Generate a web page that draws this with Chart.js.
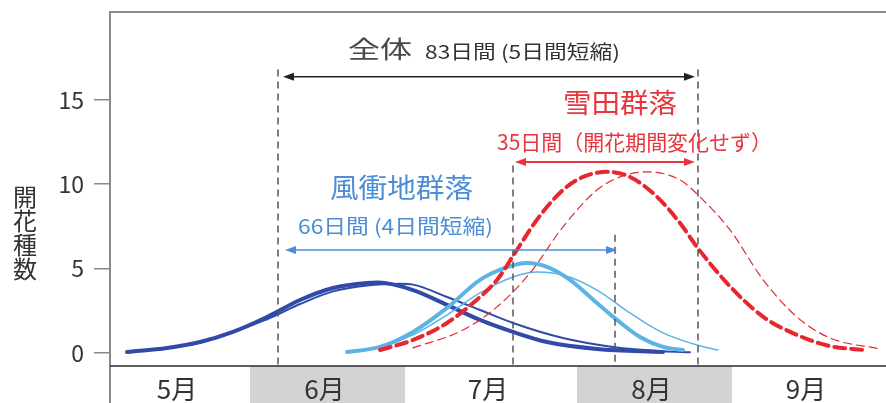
<!DOCTYPE html>
<html lang="ja">
<head>
<meta charset="utf-8">
<script src="https://cdn.jsdelivr.net/npm/chart.js@4.4.1/dist/chart.umd.min.js"></script>
<style>
html,body{margin:0;padding:0;background:#fff;}
#wrap{width:886px;height:403px;}
</style>
</head>
<body>
<div id="wrap"><canvas id="c" width="886" height="403"></canvas></div>
<script>
// x: days counted along the season axis, y: number of flowering species
const yTicks = [0, 5, 10, 15];
const monthLabels = ['5月', '6月', '7月', '8月', '9月'];
const monthEdges = [0, 28, 59, 93.4, 124.4, 155.2];
const monthShaded = [false, true, false, true, false];

// 風衝地群落 (dark blue) – present (thick) and earlier (thin)
const windNow = [[3.4,0.06],[11.4,0.3],[18,0.65],[24.6,1.25],[31.4,2.13],[38,3.14],[44.6,3.85],[51.4,4.15],[53.6,4.17],[60.6,3.73],[67.4,2.85],[74,1.96],[80.6,1.25],[87.4,0.65],[97.4,0.24],[110.6,0.06]];
const windPast = [[3.4,0.06],[18,0.6],[31.4,2.0],[38,2.9],[44.6,3.65],[51.4,4.0],[58,4.1],[60.6,4.05],[67.4,3.32],[74,2.55],[80.6,1.78],[90.6,0.89],[100.6,0.36],[110.6,0.1],[116,0.04]];
// light blue – present (thick) and earlier (thin)
const lightNow = [[47.4,0.06],[54,0.36],[60.6,1.25],[67.4,2.67],[74,4.33],[78.6,5.0],[83.4,5.33],[87.4,5.1],[92,4.33],[97.4,2.96],[101.4,1.96],[106,0.95],[110.6,0.36],[114.6,0.18]];
const lightPast = [[48,0.05],[54,0.35],[60.6,1.07],[67.4,2.25],[74,3.56],[80.6,4.5],[85.4,4.8],[90.6,4.62],[97.4,3.73],[104,2.37],[110.6,1.19],[117.4,0.47],[121.6,0.18]];
// 雪田群落 (red dashed) – present (thick) and earlier (thin)
const snowNow = [[54,0.18],[60.6,0.77],[67.4,1.78],[72.6,2.96],[77.4,4.33],[81,5.93],[85.4,7.9],[90.6,9.66],[94.6,10.43],[99.4,10.73],[104,10.43],[109.4,9.25],[114,7.7],[117.4,6.28],[124,3.95],[130.6,2.15],[137.4,1.07],[144,0.41],[150.6,0.18]];
const snowPast = [[60.6,0.3],[70.6,1.36],[77.4,2.73],[84,4.74],[90.6,7.47],[97.4,9.66],[102,10.43],[107.4,10.73],[114,10.25],[118.6,9.07],[124,7.29],[130.6,4.35],[137.4,2.13],[144,0.89],[154,0.24]];

const FONT = "'Noto Sans CJK JP', 'Noto Sans', sans-serif";
const DARK_BLUE = '#2f4aa9';
const LIGHT_BLUE = '#5bb3e6';
const RED = '#e8262d';
const TEXT_RED = '#e8343c';
const TEXT_BLUE = '#4b8dd6';

const pts = arr => arr.map(([x, y]) => ({x, y}));

function lineSet(arr, color, width, dash, order) {
  return {
    data: pts(arr), borderColor: color, borderWidth: width, borderDash: dash || [],
    pointRadius: 0, fill: false, cubicInterpolationMode: 'monotone',
    borderCapStyle: 'round', order
  };
}

// period markers (data units)
const guideLines = [
  {x: 33.6, top: 16.8}, {x: 117.6, top: 16.8}, {x: 80.6, top: 11.1}, {x: 101, top: 7.0}
];
const spanArrows = [
  {from: 34.6, to: 117, y: 16.36, color: '#222', width: 1.5},
  {from: 81, to: 117, y: 11.32, color: '#e8343c', width: 2},
  {from: 35, to: 101.4, y: 6.1, color: '#4b8dd6', width: 1.5}
];
const labels = [
  {text: '全体', x: 54, y: 18.0, size: 24, color: '#454a4a', w: 64},
  {text: '83日間 (5日間短縮)', x: 82.5, y: 17.84, size: 19, color: '#333', w: 195},
  {text: '雪田群落', x: 102, y: 14.82, size: 27, color: TEXT_RED, w: 114},
  {text: '35日間（開花期間変化せず）', x: 104.9, y: 12.51, size: 21, color: TEXT_RED, w: 275},
  {text: '風衝地群落', x: 58.3, y: 9.78, size: 27, color: TEXT_BLUE, w: 143},
  {text: '66日間 (4日間短縮)', x: 57.1, y: 7.47, size: 20, color: TEXT_BLUE, w: 195}
];

function stretchText(ctx, txt, cx, cy, size, color, w) {
  ctx.save();
  ctx.font = size + 'px ' + FONT;
  ctx.fillStyle = color;
  ctx.textAlign = 'center';
  ctx.textBaseline = 'middle';
  const nat = ctx.measureText(txt).width;
  const sx = w ? w / nat : 1;
  ctx.translate(cx, cy);
  ctx.scale(sx, 1);
  ctx.fillText(txt, 0, 0);
  ctx.restore();
}

function arrowHead(ctx, tipX, y, dir) {
  const len = 11, half = 4;
  ctx.beginPath();
  ctx.moveTo(tipX, y);
  ctx.lineTo(tipX - dir * len, y - half);
  ctx.lineTo(tipX - dir * len, y + half);
  ctx.closePath();
  ctx.fill();
}

const decor = {
  id: 'decor',
  afterDatasetsDraw(chart) {
    const {ctx, chartArea, scales: {x, y}} = chart;
    ctx.save();
    // dashed guide lines
    ctx.strokeStyle = '#555';
    ctx.lineWidth = 1.5;
    ctx.setLineDash([7, 5]);
    guideLines.forEach(g => {
      const px = x.getPixelForValue(g.x);
      ctx.beginPath();
      ctx.moveTo(px, y.getPixelForValue(g.top));
      ctx.lineTo(px, chartArea.bottom);
      ctx.stroke();
    });
    ctx.setLineDash([]);
    // span arrows
    spanArrows.forEach(a => {
      const x1 = x.getPixelForValue(a.from), x2 = x.getPixelForValue(a.to), py = y.getPixelForValue(a.y);
      ctx.strokeStyle = a.color; ctx.fillStyle = a.color; ctx.lineWidth = a.width;
      ctx.beginPath(); ctx.moveTo(x1 + 6, py); ctx.lineTo(x2 - 6, py); ctx.stroke();
      arrowHead(ctx, x1, py, -1);
      arrowHead(ctx, x2, py, 1);
    });
    ctx.restore();
    labels.forEach(l => stretchText(ctx, l.text, x.getPixelForValue(l.x), y.getPixelForValue(l.y), l.size, l.color, l.w));
  },
  afterDraw(chart) {
    const {ctx, chartArea, scales: {x, y}} = chart;
    const H = chart.height;
    ctx.save();
    // month strip
    for (let i = 0; i < monthLabels.length; i++) {
      const a = x.getPixelForValue(monthEdges[i]), b = x.getPixelForValue(monthEdges[i + 1]);
      if (monthShaded[i]) {
        ctx.fillStyle = '#d3d3d3';
        ctx.fillRect(a, chartArea.bottom, b - a, H - chartArea.bottom);
      }
      ctx.fillStyle = '#333';
      ctx.font = '26px ' + FONT;
      ctx.textAlign = 'center';
      ctx.textBaseline = 'middle';
      ctx.fillText(monthLabels[i], (a + b) / 2 - 3, chartArea.bottom + 23);
    }
    // frame: top line, left line through the strip, bottom axis
    ctx.strokeStyle = '#8a8a8a';
    ctx.lineWidth = 2;
    ctx.beginPath();
    ctx.moveTo(chartArea.left, chartArea.top); ctx.lineTo(chartArea.right, chartArea.top);
    ctx.moveTo(chartArea.left, chartArea.top); ctx.lineTo(chartArea.left, H);
    ctx.stroke();
    ctx.strokeStyle = '#2a2a2a';
    ctx.lineWidth = 1.5;
    ctx.beginPath();
    ctx.moveTo(chartArea.left, chartArea.bottom); ctx.lineTo(chartArea.right, chartArea.bottom);
    ctx.stroke();
    // vertical y-axis title
    ctx.fillStyle = '#333';
    ctx.font = '24px ' + FONT;
    ctx.textAlign = 'center';
    ctx.textBaseline = 'middle';
    const title = '開花種数';
    const cy = y.getPixelForValue(7.1);
    for (let i = 0; i < title.length; i++) {
      ctx.fillText(title[i], 25, cy + (i - 1.5) * 24);
    }
    ctx.restore();
  }
};

new Chart(document.getElementById('c'), {
  type: 'line',
  data: {
    datasets: [
      lineSet(snowNow, RED, 4, [11, 6], 0),
      lineSet(snowPast, RED, 1.2, [8, 5], 1),
      lineSet(lightNow, LIGHT_BLUE, 4, null, 2),
      lineSet(lightPast, LIGHT_BLUE, 1.5, null, 3),
      lineSet(windPast, DARK_BLUE, 2, null, 5),
      lineSet(windNow, DARK_BLUE, 4, null, 4)
    ]
  },
  options: {
    responsive: false,
    devicePixelRatio: 1,
    animation: false,
    events: [],
    layout: {padding: {top: 12, bottom: 37, left: 0, right: 0}},
    plugins: {legend: {display: false}, tooltip: {enabled: false}},
    scales: {
      x: {type: 'linear', min: 0, max: 155.2, display: false},
      y: {
        type: 'linear', min: -0.77, max: 20.2, position: 'left',
        afterBuildTicks(s) { s.ticks = yTicks.map(v => ({value: v})); },
        afterFit(s) { s.width = 110; s.paddingTop = 0; s.paddingBottom = 0; },
        ticks: {font: {size: 23, family: FONT}, color: '#333', padding: 10},
        grid: {drawOnChartArea: false, drawTicks: true, tickLength: 16, color: '#8a8a8a', lineWidth: 1.5},
        border: {display: true, color: '#8a8a8a', width: 2}
      }
    }
  },
  plugins: [decor]
});
</script>
</body>
</html>
